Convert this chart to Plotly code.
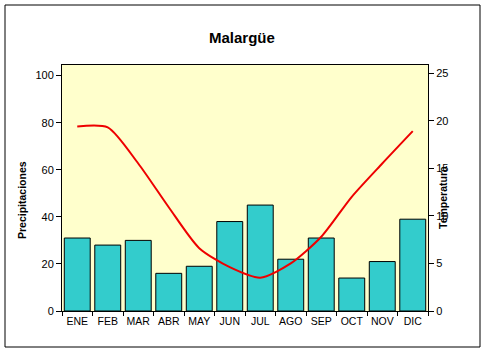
import plotly.graph_objects as go

months = ["ENE", "FEB", "MAR", "ABR", "MAY", "JUN", "JUL", "AGO", "SEP", "OCT", "NOV", "DIC"]
precip = [31, 28, 30, 16, 19, 38, 45, 22, 31, 14, 21, 39]
temp = [19.4, 19.3, 15.5, 10.9, 6.6, 4.6, 3.5, 5.0, 7.8, 12.0, 15.5, 18.9]

L, R, T, B = 62, 57, 65, 41
W, H = 485, 352
pw, ph = W - L - R, H - T - B

def px(x):
    return (x - L) / pw

def py(y):
    return (H - B - y) / ph

fig = go.Figure()
fig.add_trace(go.Bar(x=months, y=precip, marker=dict(color="#33CCCC", line=dict(color="black", width=1)),
                     width=0.85, yaxis="y"))
fig.add_trace(go.Scatter(x=months, y=temp, mode="lines", line=dict(color="#EE0000", width=2, shape="spline", smoothing=0.7),
                         yaxis="y2"))

font = dict(family="Liberation Sans, Arial, sans-serif", size=11, color="black")
fig.update_layout(
    width=W, height=H, margin=dict(l=L, r=R, t=T, b=B),
    paper_bgcolor="white", plot_bgcolor="#FFFFCC",
    showlegend=False, font=font,
    xaxis=dict(showline=True, linecolor="black", linewidth=1, mirror=True, ticks="outside", ticklen=4,
               tickson="boundaries", tickcolor="black", showgrid=False, tickangle=0,
               tickfont=dict(size=10.5)),
    yaxis=dict(range=[0, 104.5], tickvals=[0, 20, 40, 60, 80, 100], showline=True, linecolor="black",
               linewidth=1, ticks="outside", ticklen=5, tickcolor="black", showgrid=False, zeroline=False,
               tickfont=dict(size=11)),
    yaxis2=dict(range=[0, 25.85], tickvals=[0, 5, 10, 15, 20, 25], overlaying="y", side="right", showline=True,
                linecolor="black", linewidth=1, ticks="outside", ticklen=5, tickcolor="black", showgrid=False,
                zeroline=False, tickfont=dict(size=11)),
    bargap=0.15,
)
fig.add_annotation(text="<b>Malargüe</b>", xref="paper", yref="paper", x=px(242), y=py(27), showarrow=False,
                   font=dict(size=15, family="Liberation Sans, Arial, sans-serif"))
fig.add_annotation(text="<b>Precipitaciones</b>", xref="paper", yref="paper", x=px(14), y=py(200), showarrow=False,
                   textangle=-90, font=dict(size=10.5))
fig.add_annotation(text="<b>Temperatura</b>", xref="paper", yref="paper", x=px(451), y=py(198), showarrow=False,
                   textangle=-90, font=dict(size=10.5))
fig.add_shape(type="rect", xref="paper", yref="paper", x0=px(5), x1=px(480), y0=py(347), y1=py(5),
              line=dict(color="black", width=1), layer="below")
fig.write_html("out.html")
